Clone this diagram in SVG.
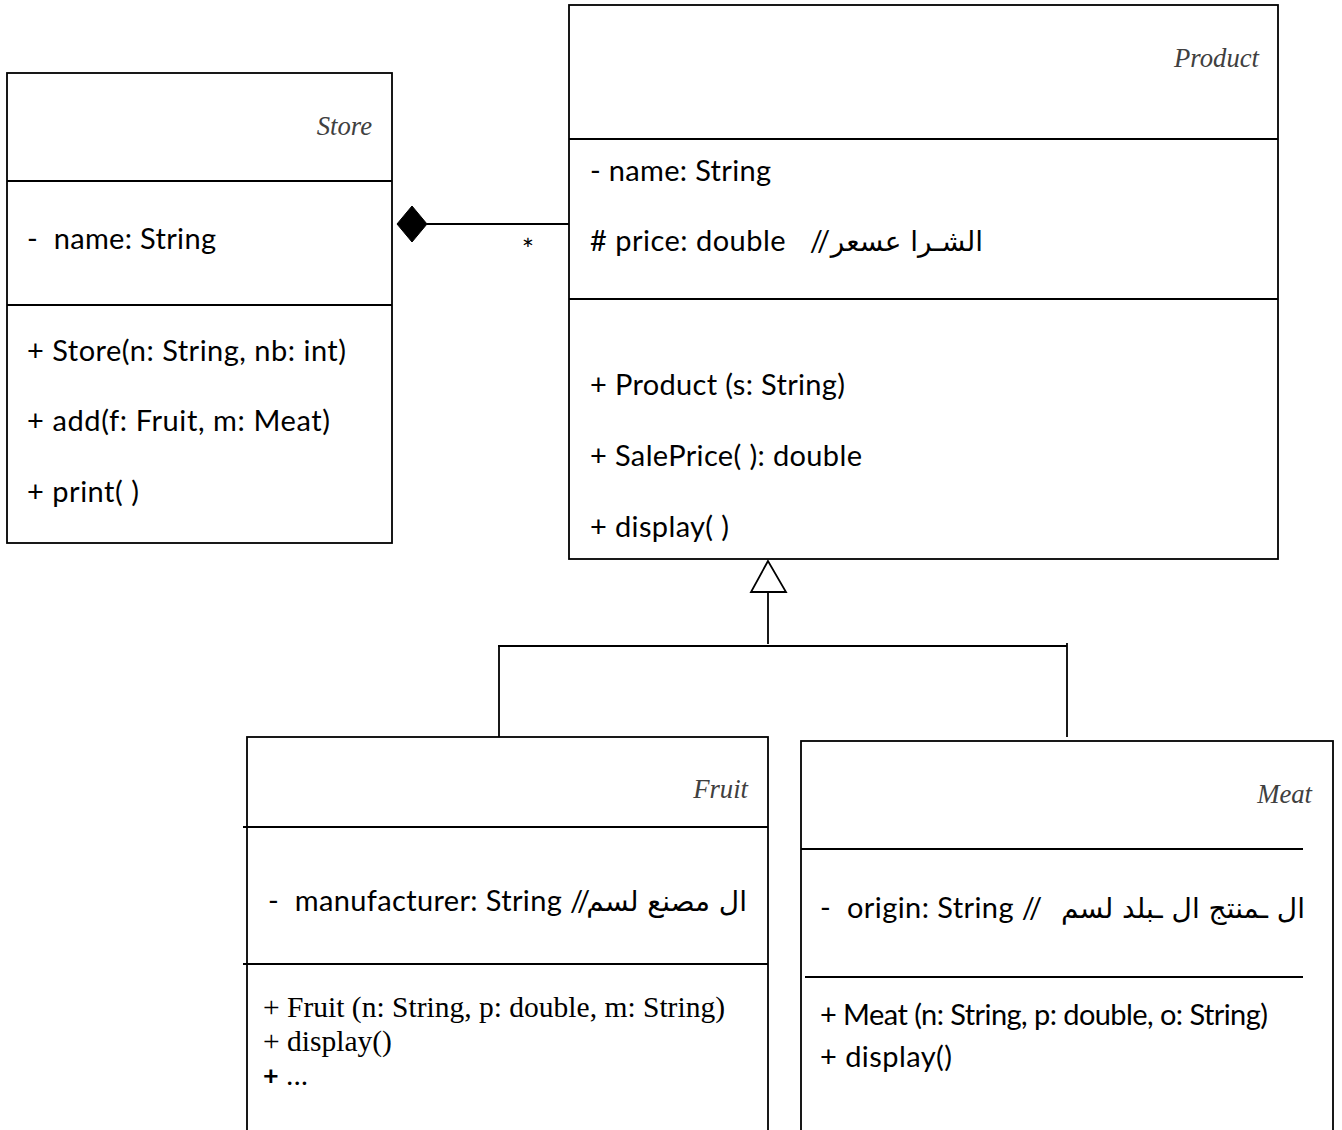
<svg xmlns="http://www.w3.org/2000/svg" width="1342" height="1130" viewBox="0 0 1342 1130">
<style>
.box{fill:#fff;stroke:#000;stroke-width:1.8}
.sep{stroke:#000;stroke-width:1.8;fill:none}
.ln{stroke:#000;stroke-width:1.8;fill:none}
text{white-space:pre}
.title{font-family:"Liberation Serif","Times New Roman",serif;font-style:italic;font-size:26.7px;fill:#404040;text-anchor:end}
.t{font-family:Lato,"Liberation Sans",sans-serif;font-size:29px;fill:#000}
.ar{font-family:"DejaVu Sans",sans-serif;font-size:28px;fill:#000;text-anchor:end}
.tr{font-family:"Liberation Serif","Times New Roman",serif;font-size:29.5px;fill:#000}
</style>
<g id="connectors">
<line class="ln" x1="427" y1="224" x2="573" y2="224"/>
<polygon points="397,224 412,206 427,224 412,242" fill="#000" stroke="#000" stroke-width="1"/>
<text class="t" x="528" y="260" font-size="24" text-anchor="middle">*</text>
<line class="ln" x1="768" y1="592" x2="768" y2="644"/>
<polygon points="768,561 751,592 786,592" fill="#fff" stroke="#000" stroke-width="1.8"/>
<line class="ln" x1="498" y1="646" x2="1067" y2="646"/>
<line class="ln" x1="499" y1="646" x2="499" y2="737"/>
<line class="ln" x1="1067" y1="643" x2="1067" y2="737"/>
</g>
<g id="store">
<rect class="box" x="7" y="73" width="385" height="470"/>
<line class="sep" x1="7" y1="181" x2="392" y2="181"/>
<line class="sep" x1="7" y1="305" x2="392" y2="305"/>
<text class="title" x="372" y="135">Store</text>
<text class="t" x="27" y="249" textLength="189">-&#160;&#160;name: String</text>
<text class="t" x="27" y="361" textLength="319">+ Store(n: String, nb: int)</text>
<text class="t" x="27" y="431" textLength="303">+ add(f: Fruit, m: Meat)</text>
<text class="t" x="27" y="502" textLength="112">+ print( )</text>
</g>
<g id="product">
<rect class="box" x="569" y="5" width="709" height="554"/>
<line class="sep" x1="569" y1="139" x2="1278" y2="139"/>
<line class="sep" x1="569" y1="299" x2="1278" y2="299"/>
<text class="title" x="1259" y="67">Product</text>
<text class="t" x="590" y="181" textLength="181">- name: String</text>
<text class="t" x="590" y="251" textLength="240"># price: double&#160;&#160;&#160;//</text>
<text class="ar" x="983" y="251">الشـرا عسعر</text>
<text class="t" x="590" y="395" textLength="255">+ Product (s: String)</text>
<text class="t" x="590" y="466" textLength="272">+ SalePrice( ): double</text>
<text class="t" x="590" y="537" textLength="139">+ display( )</text>
</g>
<g id="fruit">
<rect class="box" x="247" y="737" width="521" height="500"/>
<line class="sep" x1="243" y1="827" x2="768" y2="827"/>
<line class="sep" x1="243" y1="964" x2="768" y2="964"/>
<text class="title" x="748" y="798">Fruit</text>
<text class="t" x="268" y="911" textLength="322">-&#160;&#160;manufacturer: String //</text>
<text class="ar" x="747" y="911" font-size="26">ال مصنع لسم</text>
<text class="tr" x="263" y="1017" textLength="462">+ Fruit (n: String, p: double, m: String)</text>
<text class="tr" x="263" y="1051">+ display()</text>
<text class="tr" x="263" y="1085"><tspan font-family="Lato,'Liberation Sans',sans-serif" font-size="27" font-weight="bold">+</tspan> ...</text>
</g>
<g id="meat">
<rect class="box" x="801" y="741" width="532" height="500"/>
<line class="sep" x1="801" y1="849" x2="1303" y2="849"/>
<line class="sep" x1="805" y1="977" x2="1303" y2="977"/>
<text class="title" x="1312" y="803">Meat</text>
<text class="t" x="820" y="918" textLength="222">-&#160;&#160;origin: String //</text>
<text class="ar" x="1305" y="918">ال ـمنتج ال ـبلد لسم</text>
<text class="t" x="820" y="1025" textLength="448">+ Meat (n: String, p: double, o: String)</text>
<text class="t" x="820" y="1067" textLength="132">+ display()</text>
</g>
</svg>
